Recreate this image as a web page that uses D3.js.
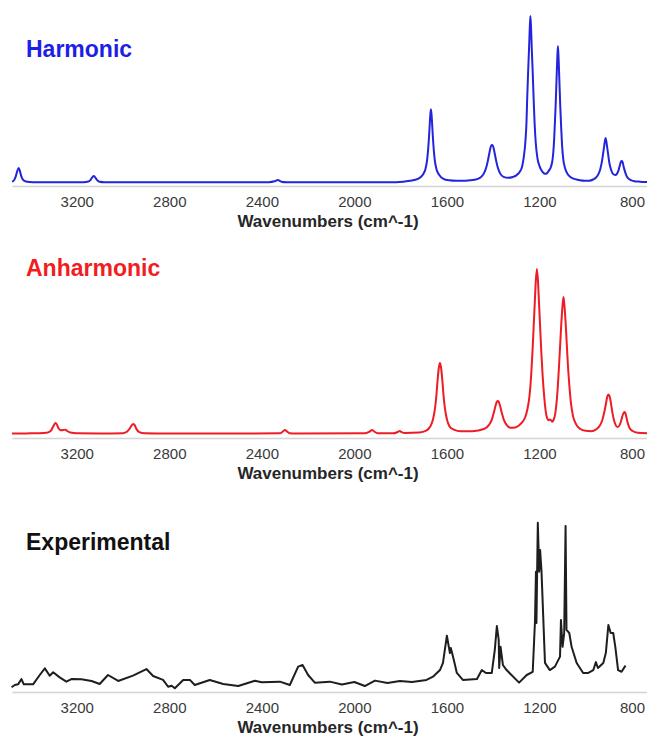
<!DOCTYPE html>
<html>
<head>
<meta charset="utf-8">
<script src="https://cdn.jsdelivr.net/npm/d3@7"></script>
<style>
  html, body { margin: 0; padding: 0; background: #ffffff; }
  svg { display: block; font-family: "Liberation Sans", Arial, sans-serif; }
</style>
</head>
<body>
<svg id="chart" width="647" height="744"></svg>
<script>
// ---------- data (wavenumber cm^-1, relative intensity 0-100) ----------
const tickValues = [3200, 2800, 2400, 2000, 1600, 1200, 800];
const xAxisLabel = "Wavenumbers (cm^-1)";
const panelTitles = ["Harmonic", "Anharmonic", "Experimental"];

const harmonic = [
  [3480,0.5],[3472,1.2],[3464,3.5],[3457,7],[3451,8.7],[3446,7],[3440,3.8],[3432,1.6],[3420,0.6],[3390,0.2],
  [3170,0.2],[3150,0.6],[3140,1.6],[3131,3.5],[3126,3.9],[3121,3.2],[3113,1.6],[3102,0.5],[3080,0.2],
  [2370,0.2],[2345,0.7],[2336,1.3],[2331,1.5],[2325,1.2],[2316,0.5],[2295,0.2],
  [1820,0.2],[1760,1],[1725,2.2],[1705,4.5],[1693,8],[1686,13],[1681,20],[1678,26],[1675,33],[1672,40],[1669,44],
  [1666,40],[1663,33],[1660,26],[1657,20],[1652,13],[1645,8],[1633,4.5],[1615,2.2],[1590,1.3],[1560,1],[1520,1.1],
  [1480,1.6],[1455,3],[1440,5.5],[1430,9],[1423,13],[1418,16.5],[1413,20],[1409,22],[1405,22.5],[1401,22],[1397,20],
  [1392,16.5],[1387,13],[1380,9],[1370,5.5],[1355,3.4],[1335,2.8],[1315,3.3],[1300,4.3],[1285,6.5],[1275,9.5],
  [1268,15],[1261,24],[1256,36],[1253,50],[1249,66],[1245,80],[1242,92],[1239,100],[1236,92],[1233,80],[1229,66],
  [1225,50],[1221,36],[1216,24],[1209,15],[1200,10],[1190,7],[1180,5.5],[1174,5.2],[1168,5.5],[1160,7],[1150,9.5],
  [1143,14],[1138,22],[1134,33],[1130,46],[1126,62],[1123,74],[1120,82],[1117,74],[1114,62],[1110,46],[1106,33],
  [1102,22],[1097,14],[1090,9],[1080,5.5],[1065,3.2],[1045,2],[1025,1.3],[1005,1],[985,1.1],[968,1.8],[955,3],
  [945,5],[937,8],[930,12.5],[925,17],[920,22],[917,25],[914,26.7],[911,25],[908,22],[903,17],[898,12],[891,8],
  [882,5.2],[872,4.5],[865,5.2],[859,7],[854,9.5],[849,12],[846,12.8],[843,12.9],[840,12],[836,9.5],[831,7],
  [825,4.5],[817,2.6],[805,1.4],[790,0.8],[765,0.5],[735,0.3]
];

const anharmonic = [
  [3480,0.3],[3400,0.4],[3330,0.8],[3312,2],[3302,4.5],[3295,6.3],[3291,6.7],[3286,5.7],[3279,3.5],[3270,2.3],
  [3258,2.4],[3250,2.6],[3242,1.9],[3228,0.9],[3200,0.4],[3100,0.3],[3000,0.5],[2982,1.5],[2970,3.6],[2960,5.6],
  [2955,6],[2949,5.2],[2941,2.8],[2930,1.1],[2905,0.4],[2850,0.3],[2600,0.3],[2322,0.4],[2309,1.5],[2300,2.4],
  [2292,1.6],[2280,0.5],[2250,0.3],[1955,0.4],[1934,1.5],[1923,2.4],[1914,1.5],[1900,0.5],[1832,0.4],[1813,1.2],
  [1804,1.8],[1796,1.2],[1782,0.6],[1720,0.9],[1690,2],[1672,4.5],[1660,9],[1651,16],[1645,24],[1640,33],[1635,40],
  [1630,43],[1625,40],[1620,33],[1615,24],[1609,16],[1600,9],[1588,4.5],[1570,2.6],[1540,1.6],[1490,1.7],
  [1440,3],[1418,5.5],[1405,9],[1397,13],[1390,17],[1384,19.5],[1380,20],[1376,19.5],[1370,17],[1363,13],
  [1355,9],[1342,5.5],[1325,3.8],[1305,4],[1290,5],[1275,7],[1262,10],[1252,15],[1243,23],[1236,35],[1230,50],
  [1225,65],[1220,80],[1216,92],[1211,100],[1206,92],[1202,80],[1197,65],[1192,50],[1186,35],[1179,22],[1172,13],
  [1165,9],[1160,8.3],[1155,8.8],[1150,8.4],[1145,7.5],[1139,8.5],[1132,12],[1126,19],[1120,30],[1115,42],
  [1110,55],[1105,68],[1100,78],[1096,83],[1092,78],[1087,68],[1082,55],[1077,42],[1071,30],[1064,19],[1055,11],
  [1042,6],[1025,3.2],[1000,1.9],[975,1.7],[955,2.8],[940,4.8],[928,8.5],[920,13],[913,18],[907,22.5],[901,24],
  [896,22.5],[890,18],[884,12.5],[877,8],[869,5],[861,4.2],[853,5.5],[846,8.5],[840,11.5],[835,13],[832,13.3],
  [828,12.5],[823,9.5],[817,6],[809,3.4],[797,1.8],[775,0.8],[735,0.5]
];

const experimental = [
  [3482,2.8],[3468,4.1],[3454,4.5],[3439,7.6],[3429,4.5],[3389,4.5],[3360,10],[3338,13.9],[3317,9.6],[3302,11.6],
  [3274,8.6],[3245,6.1],[3223,7.6],[3180,7.5],[3136,6.5],[3101,4.7],[3065,10],[3021,6.5],[2957,9.6],[2899,13.5],
  [2870,9.4],[2827,7.1],[2805,3.1],[2790,3.7],[2776,2.2],[2740,7.1],[2711,7.1],[2690,4.1],[2625,7.1],[2567,4.7],
  [2502,3.5],[2430,6.6],[2401,5.7],[2322,6.1],[2279,4.1],[2243,14.9],[2224,15.9],[2200,10],[2171,5.5],[2106,6.1],
  [2054,4.4],[2000,5.9],[1955,3.5],[1911,6.7],[1857,5.3],[1803,6.5],[1751,5.9],[1688,7.1],[1660,9],[1630,12.9],
  [1617,17.1],[1600,33.1],[1587,22.9],[1583,25.9],[1570,18.8],[1557,11.2],[1531,7.1],[1470,7.6],[1449,12.9],
  [1431,11.2],[1406,11.2],[1393,24.7],[1384,38.8],[1376,30.6],[1374,14.1],[1368,26.6],[1358,15.9],[1342,12.9],
  [1288,5.5],[1255,10],[1229,11.9],[1219,42.4],[1215,70.8],[1213,40.6],[1207,99.6],[1201,70.8],[1197,83.5],
  [1191,70.8],[1176,17.1],[1155,12.9],[1133,14.9],[1111,20.8],[1107,42.4],[1100,26.6],[1093,34.7],[1087,97.6],
  [1083,36.5],[1071,34.7],[1061,26.6],[1039,17.1],[1011,11.2],[989,11.2],[967,12.9],[956,17.6],[947,14.1],
  [924,17.1],[913,22.9],[902,39.4],[892,34.7],[881,34.7],[872,26.6],[860,12.9],[845,11.9],[828,15.5]
];

// ---------- layout ----------
const svg = d3.select("#chart");
const x = d3.scaleLinear().domain([3480, 735]).range([12, 647]);

const panels = [
  { data: harmonic,     title: panelTitles[0], color: "#2424dc", titleColor: "#1e1ee6",
    base: 182.5, top: 16,  axisY: 186, titleY: 57,  curve: d3.curveMonotoneX },
  { data: anharmonic,   title: panelTitles[1], color: "#ee1c24", titleColor: "#f01e1e",
    base: 434,   top: 269, axisY: 438, titleY: 276, curve: d3.curveMonotoneX },
  { data: experimental, title: panelTitles[2], color: "#1e1e1e", titleColor: "#111111",
    base: 692,   top: 522, axisY: 692, titleY: 550, curve: d3.curveLinear }
];

panels.forEach(p => {
  const y = d3.scaleLinear().domain([0, 100]).range([p.base, p.top]);
  const g = svg.append("g");

  // axis
  const axis = d3.axisBottom(x).tickValues(tickValues).tickSize(0).tickPadding(10)
    .tickFormat(d3.format("d"));
  const ag = g.append("g").attr("transform", `translate(0,${p.axisY})`).call(axis);
  ag.select(".domain").attr("stroke", "#d4d4d4").attr("stroke-width", 1.6);
  ag.selectAll("text").attr("font-size", 15).attr("fill", "#3a3a3a")
    .attr("font-family", "'Liberation Sans', Arial, sans-serif");

  // axis label
  g.append("text")
    .attr("x", 328).attr("y", p.axisY + 41)
    .attr("text-anchor", "middle")
    .attr("font-size", 17).attr("font-weight", "bold").attr("fill", "#262626")
    .text(xAxisLabel);

  // spectrum
  const line = d3.line().x(d => x(d[0])).y(d => y(d[1])).curve(p.curve);
  g.append("path").datum(p.data)
    .attr("d", line)
    .attr("fill", "none")
    .attr("stroke", p.color)
    .attr("stroke-width", 2)
    .attr("stroke-linejoin", "round");

  // title
  g.append("text")
    .attr("x", 26).attr("y", p.titleY)
    .attr("font-size", 23).attr("font-weight", "bold").attr("fill", p.titleColor)
    .text(p.title);
});
</script>
</body>
</html>
